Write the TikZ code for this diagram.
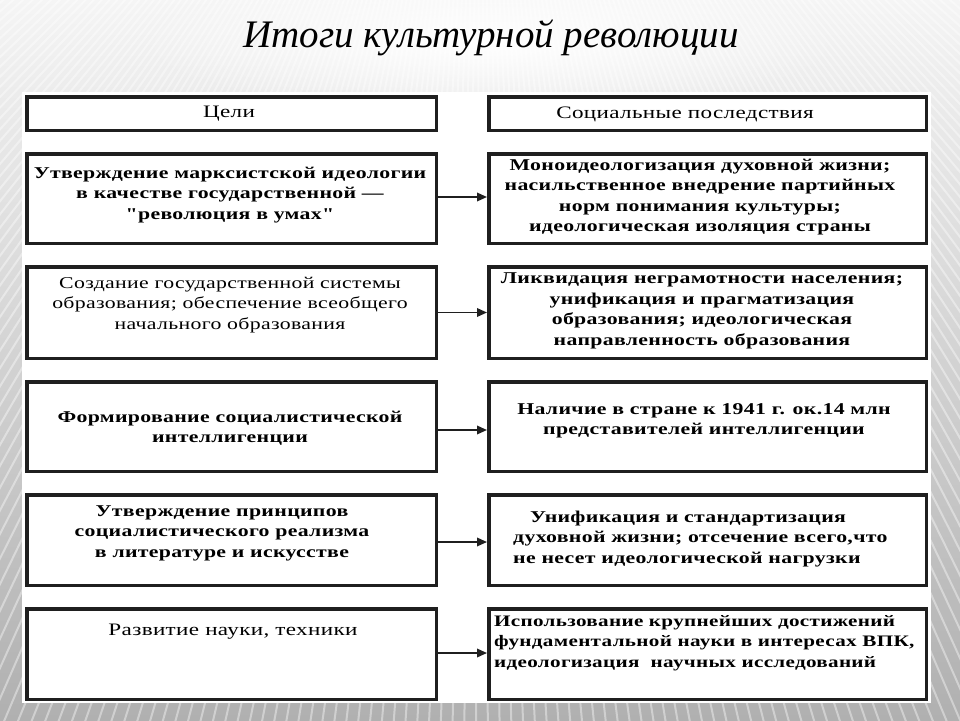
\documentclass[tikz,border=0pt]{standalone}
\usepackage{fontspec}
\setmainfont{Liberation Serif}
\newfontfamily\bx[FakeStretch=1.32,LetterSpace=2]{Liberation Serif}
\usetikzlibrary{arrows.meta,fadings}
\tikzfading[name=whiteglow, inner color=transparent!0, outer color=transparent!100]
\tikzset{
  boxL/.style={draw=black!88, line width=3.5pt, fill=white, inner sep=0pt, minimum width=409.5pt},
  boxR/.style={draw=black!88, line width=3.5pt, fill=white, inner sep=0pt, minimum width=437.5pt},
  lt/.style={font=\bx\bfseries\fontsize{16.5}{20.5}\selectfont, align=center, inner sep=0pt},
  lr/.style={font=\bx\fontsize{16.5}{20.5}\selectfont, align=center, inner sep=0pt},
  hd/.style={font=\bx\fontsize{17.5}{20}\selectfont, align=center, inner sep=0pt},
  arr/.style={line width=1.8pt, draw=black!88, -{Triangle[length=10pt,width=8.5pt]}},
  stripe/.style={line width=2pt, white, opacity=0.4}
}
\begin{document}
\begin{tikzpicture}[x=1pt,y=-1pt]
\useasboundingbox (0,0) rectangle (960,720);
% background
\shade[top color=gray!8, bottom color=gray!62] (0,0) rectangle (960,720);
\begin{scope}
  \clip (0,0) rectangle (960,720);
  \foreach \a in {-70,-69.4,...,70} \draw[stripe] (480,-400) -- ++(90+\a:1700);
\end{scope}
\fill[white, path fading=whiteglow] (490,40) ellipse (360 and 75);
\fill[white] (22,92) rectangle (931,703);
% title
\node[font=\itshape\fontsize{39}{39}\selectfont, inner sep=0pt] (title) at (491,38) {Итоги культурной революции};
% boxes
\node[boxL, minimum height=33.5pt] (L0) at (231.5,113.5) {};
\node[boxR, minimum height=33.5pt] (R0) at (707.5,113.5) {};
\node[boxL, minimum height=89.5pt] (L1) at (231.5,198.5) {};
\node[boxR, minimum height=89.5pt] (R1) at (707.5,198.5) {};
\node[boxL, minimum height=91.5pt] (L2) at (231.5,312.5) {};
\node[boxR, minimum height=91.5pt] (R2) at (707.5,312.5) {};
\node[boxL, minimum height=89.5pt] (L3) at (231.5,426.5) {};
\node[boxR, minimum height=89.5pt] (R3) at (707.5,426.5) {};
\node[boxL, minimum height=90.5pt] (L4) at (231.5,540) {};
\node[boxR, minimum height=90.5pt] (R4) at (707.5,540) {};
\node[boxL, minimum height=90.5pt] (L5) at (231.5,654) {};
\node[boxR, minimum height=90.5pt] (R5) at (707.5,654) {};
% texts
\node[hd] (tL0) at (229,114) {Цели};
\node[hd] (tR0) at (685,114) {Социальные последствия};
\node[lt] (tL1) at (230,195) {Утверждение марксистской идеологии\\в качестве государственной —\\"революция в умах"};
\node[lt] (tR1) at (700,197) {Моноидеологизация духовной жизни;\\насильственное внедрение партийных\\норм понимания культуры;\\идеологическая изоляция страны};
\node[lr] (tL2) at (230,305) {Создание государственной системы\\образования; обеспечение всеобщего\\начального образования};
\node[lt] (tR2) at (702,311) {Ликвидация неграмотности населения;\\унификация и прагматизация\\образования; идеологическая\\направленность образования};
\node[lt] (tL3) at (230,428) {Формирование социалистической\\интеллигенции};
\node[lt] (tR3) at (704,421) {Наличие в стране к 1941 г. ок.14 млн\\представителей интеллигенции};
\node[lt] (tL4) at (222,533) {Утверждение принципов\\социалистического реализма\\в литературе и искусстве};
\node[lt, align=left, anchor=west] (tR4) at (513,539) {\hspace*{17pt}Унификация и стандартизация\\духовной жизни; отсечение всего,что\\не несет идеологической нагрузки};
\node[hd] (tL5) at (233,632) {Развитие науки, техники};
\node[lt, font=\bx\bfseries\fontsize{16}{20.5}\selectfont, align=left, anchor=west] (tR5) at (494,643) {Использование крупнейших достижений\\фундаментальной науки в интересах ВПК,\\идеологизация \ научных исследований};
% arrows
\draw[arr] ([yshift=1.5pt]L1.east) -- ([yshift=1.5pt]R1.west);
\draw[arr] (L2.east) -- (R2.west);
\draw[arr] ([yshift=-3.5pt]L3.east) -- ([yshift=-3.5pt]R3.west);
\draw[arr] ([yshift=-2pt]L4.east) -- ([yshift=-2pt]R4.west);
\draw[arr] ([yshift=1pt]L5.east) -- ([yshift=1pt]R5.west);
\end{tikzpicture}
\end{document}
